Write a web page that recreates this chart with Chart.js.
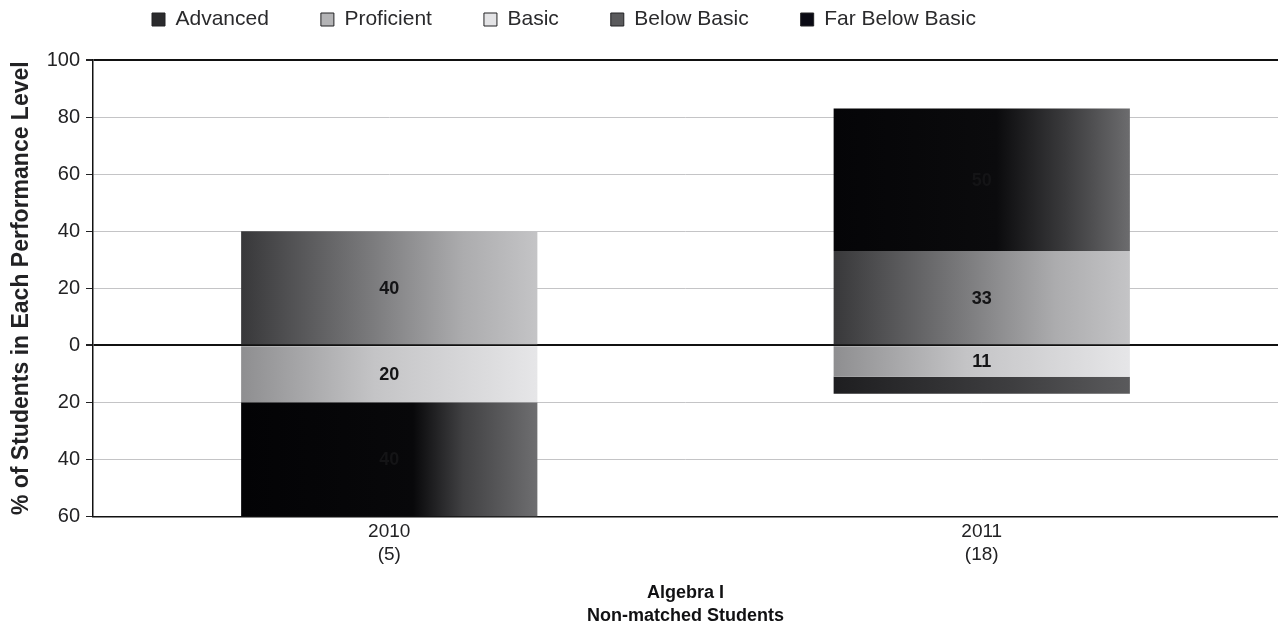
<!DOCTYPE html>
<html>
<head>
<meta charset="utf-8">
<script src="https://cdn.jsdelivr.net/npm/chart.js@4/dist/chart.umd.min.js"></script>
<style>
  html, body { margin: 0; padding: 0; background: #ffffff; }
  #wrap { width: 1278px; height: 629px; }
</style>
</head>
<body>
<div id="wrap"><canvas id="chart" width="1278" height="629"></canvas></div>
<script>
// Test year (with number of students tested)
const categories = [['2010', '(5)'], ['2011', '(18)']];

// Percent of students at each performance level
const advanced      = [0, 50];
const proficient    = [40, 33];
const basic         = [20, 11];
const belowBasic    = [0, 6];
const farBelowBasic = [40, 0];

// Legend order of the levels
const levelNames = ['Advanced', 'Proficient', 'Basic', 'Below Basic', 'Far Below Basic'];

// Axis range (levels below Proficient are drawn under zero)
const yMin = -60, yMax = 100, yStep = 20;

const FONT = "'Liberation Sans', Arial, sans-serif";
const BAR_FRACTION = 0.5;

// Left-to-right grey gradients used for each level
const shades = {
  'Advanced':        [[0, '#050507'], [0.55, '#0b0b0d'], [0.78, '#3a3a3c'], [1, '#6c6c6e']],
  'Proficient':      [[0, '#38383a'], [0.45, '#7c7c7e'], [0.75, '#acacae'], [1, '#c4c4c6']],
  'Basic':           [[0, '#8e8e90'], [0.45, '#c4c4c6'], [1, '#e6e6e8']],
  'Below Basic':     [[0, '#1e1e20'], [0.6, '#3e3e40'], [1, '#5a5a5c']],
  'Far Below Basic': [[0, '#030305'], [0.58, '#08080a'], [0.75, '#414143'], [1, '#6e6e70']]
};
const swatch = {
  'Advanced': '#2b2b2d',
  'Proficient': '#b4b4b6',
  'Basic': '#e4e4e6',
  'Below Basic': '#5a5a5c',
  'Far Below Basic': '#0a0a14'
};

function barGradient(name) {
  return function (ctx) {
    const chart = ctx.chart;
    const x = chart.scales && chart.scales.x;
    if (!x || ctx.dataIndex === undefined || !isFinite(x.width) || x.width <= 0) {
      return swatch[name];
    }
    const cx = x.getPixelForValue(ctx.dataIndex);
    const half = x.width / categories.length * BAR_FRACTION / 2;
    const g = chart.ctx.createLinearGradient(cx - half, 0, cx + half, 0);
    shades[name].forEach(([p, c]) => g.addColorStop(p, c));
    return g;
  };
}

function makeSet(name, values, sign) {
  return {
    label: name,
    data: values.map(v => sign * v),
    backgroundColor: barGradient(name),
    borderWidth: 0,
    barPercentage: BAR_FRACTION,
    categoryPercentage: 1.0
  };
}

// Stacking order: Proficient sits on zero with Advanced above it;
// Basic, Below Basic and Far Below Basic stack downward from zero.
const datasets = [
  makeSet('Proficient', proficient, 1),
  makeSet('Advanced', advanced, 1),
  makeSet('Basic', basic, -1),
  makeSet('Below Basic', belowBasic, -1),
  makeSet('Far Below Basic', farBelowBasic, -1)
];

// Values printed in the middle of each segment
const segmentLabels = {
  id: 'segmentLabels',
  afterDatasetsDraw(chart) {
    const c = chart.ctx;
    c.save();
    c.font = 'bold 18px ' + FONT;
    c.fillStyle = '#141416';
    c.textAlign = 'center';
    c.textBaseline = 'middle';
    chart.data.datasets.forEach((ds, i) => {
      const meta = chart.getDatasetMeta(i);
      meta.data.forEach((bar, j) => {
        const v = Math.abs(ds.data[j]);
        if (v < 10) return;
        c.fillText(String(v), bar.x, (bar.y + bar.base) / 2 + 1);
      });
    });
    c.restore();
  }
};

// Places the legend row above the plot
const legendPlacement = {
  id: 'legendPlacement',
  afterLayout(chart) {
    const lg = chart.legend;
    if (!lg) return;
    const pad = lg.options.labels.padding;
    lg.left = 152 - pad;
    lg.top = 9 - pad;
  }
};

new Chart(document.getElementById('chart'), {
  type: 'bar',
  data: { labels: categories, datasets: datasets },
  plugins: [segmentLabels, legendPlacement],
  options: {
    responsive: false,
    animation: false,
    layout: { padding: { left: 0, right: 0, top: 0, bottom: 2 } },
    plugins: {
      tooltip: { enabled: false },
      legend: {
        position: 'top',
        align: 'start',
        maxHeight: 60,
        labels: {
          font: { family: FONT, size: 21 },
          color: '#2a2a2c',
          boxWidth: 13,
          boxHeight: 13,
          padding: 52,
          sort: (a, b) => levelNames.indexOf(a.text) - levelNames.indexOf(b.text),
          generateLabels(chart) {
            return chart.data.datasets.map((ds, i) => ({
              text: ds.label,
              fillStyle: swatch[ds.label],
              strokeStyle: '#222224',
              lineWidth: 1,
              hidden: false,
              datasetIndex: i,
              fontColor: '#2a2a2c'
            }));
          }
        }
      }
    },
    scales: {
      x: {
        stacked: true,
        grid: { display: false, drawTicks: false },
        border: { display: true, color: '#111111', width: 1.5 },
        ticks: {
          font: { family: FONT, size: 19 },
          color: '#222224',
          padding: 4,
          maxRotation: 0
        },
        title: {
          display: true,
          text: ['Algebra I', 'Non-matched Students'],
          font: { family: FONT, size: 18, weight: 'bold', lineHeight: 1.25 },
          color: '#111113',
          padding: { top: 12, bottom: 0 }
        }
      },
      y: {
        stacked: true,
        min: yMin,
        max: yMax,
        afterFit(scale) { scale.width = 93; },
        ticks: {
          stepSize: yStep,
          font: { family: FONT, size: 20 },
          color: '#222224',
          padding: 6,
          callback: v => String(Math.abs(v))
        },
        grid: {
          color: ctx => {
            const v = ctx.tick ? ctx.tick.value : null;
            if (v === 0 || v === yMax || v === yMin) return '#111111';
            return '#c4c4c6';
          },
          lineWidth: ctx => {
            const v = ctx.tick ? ctx.tick.value : null;
            if (v === 0 || v === yMax) return 2;
            return 1;
          },
          tickColor: '#222224',
          tickLength: 7
        },
        border: { display: true, color: '#111111', width: 1.5 },
        title: {
          display: true,
          text: '% of Students in Each Performance Level',
          font: { family: FONT, size: 23, weight: 'bold' },
          color: '#222224',
          padding: { top: 8, bottom: 0 }
        }
      }
    }
  }
});
</script>
</body>
</html>
